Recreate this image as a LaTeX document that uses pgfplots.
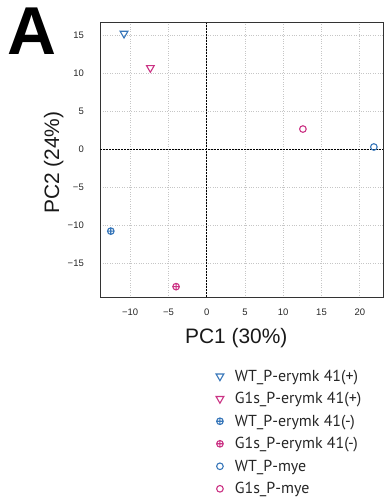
\documentclass[border=0pt]{standalone}
\usepackage{fontspec}
\setmainfont{Liberation Sans}
\newfontfamily\legfont{PT Sans}
\usepackage{pgfplots}
\pgfplotsset{compat=1.18}
\definecolor{cblue}{RGB}{55,118,185}
\definecolor{cmag}{RGB}{203,51,132}
\begin{document}
\begin{tikzpicture}
\begin{axis}[
 at={(100.3bp,204.7bp)}, anchor=south west,
 scale only axis, width=283.2bp, height=274.6bp,
 xmin=-13.9, xmax=23.1, ymin=-19.5, ymax=16.6,
 axis line style={draw=black!80, line width=1bp},
 xtick={-10,-5,0,5,10,15,20}, xticklabels={−10,−5,0,5,10,15,20},
 ytick={-15,-10,-5,0,5,10,15}, yticklabels={−15,−10,−5,0,5,10,15},
 major tick length=0pt,
 tick label style={font=\fontsize{9.5}{10}\selectfont, text=black!85},
 xticklabel style={yshift=-8bp},
 yticklabel style={xshift=-13bp},
 grid=major, major grid style={gray!45, dotted, line width=0.6bp},
 xlabel={PC1 (30\%)}, ylabel={PC2 (24\%)},
 label style={font=\fontsize{21}{24}\selectfont, text=black!90},
 xlabel style={at={(axis description cs:0.48,-0.168)}, anchor=base},
 ylabel style={at={(axis description cs:-0.145,0.49)}, anchor=base},
 legend cell align=left,
 legend style={at={(axis description cs:0.408,-0.256)}, anchor=north west, draw=none, fill=none,
   font=\legfont\fontsize{16}{18}\selectfont, text=black!85, row sep=5.7bp, inner sep=0pt,
   /tikz/every odd column/.append style={column sep=9bp}},
]
\addplot[black, dash pattern=on 2bp off 1bp, line width=0.6bp, forget plot] coordinates {(0,-19.5) (0,16.6)};
\addplot[black, dash pattern=on 2bp off 1bp, line width=0.6bp, forget plot] coordinates {(-13.9,0) (23.1,0)};
\addplot[only marks, mark=triangle, mark size=4.5bp, mark options={rotate=180, draw=cblue, line width=1.1bp}] coordinates {(-10.8,15.18)};
\addlegendentry{WT\_P-erymk 41(+)}
\addplot[only marks, mark=triangle, mark size=4.5bp, mark options={rotate=180, draw=cmag, line width=1.1bp}] coordinates {(-7.36,10.67)};
\addlegendentry{G1s\_P-erymk 41(+)}
\addplot[only marks, mark=oplus, mark size=3.3bp, mark options={draw=cblue, line width=1.1bp}] coordinates {(-12.53,-10.8)};
\addlegendentry{WT\_P-erymk 41(-)}
\addplot[only marks, mark=oplus, mark size=3.3bp, mark options={draw=cmag, line width=1.1bp}] coordinates {(-4.0,-18.1)};
\addlegendentry{G1s\_P-erymk 41(-)}
\addplot[only marks, mark=o, mark size=3.3bp, mark options={draw=cblue, line width=1.1bp}] coordinates {(21.84,0.26)};
\addlegendentry{WT\_P-mye}
\addplot[only marks, mark=o, mark size=3.3bp, mark options={draw=cmag, line width=1.1bp}] coordinates {(12.57,2.62)};
\addlegendentry{G1s\_P-mye}
\end{axis}
\node[anchor=base west, inner sep=0pt, font=\fontsize{68}{70}\selectfont\bfseries] at (7bp,447bp) {A};
\pgfresetboundingbox
\useasboundingbox (0,0) rectangle (385bp,502bp);
\end{tikzpicture}
\end{document}
